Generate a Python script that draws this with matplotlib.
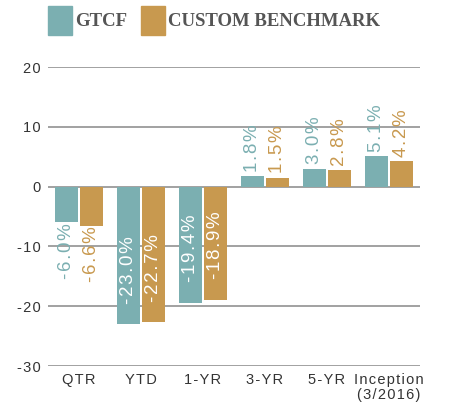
import matplotlib.pyplot as plt
import numpy as np
from matplotlib.patches import Rectangle

# Data
categories = ['QTR', 'YTD', '1-YR', '3-YR', '5-YR', 'Inception\n(3/2016)']
gtcf = [-6.0, -23.0, -19.4, 1.8, 3.0, 5.1]
benchmark = [-6.6, -22.7, -18.9, 1.5, 2.8, 4.2]
series_names = ['GTCF', 'CUSTOM BENCHMARK']
yticks = [20, 10, 0, -10, -20, -30]

teal = '#7bafb1'
gold = '#c8994f'
grid_gray = '#9a9a9a'

plt.rcParams['font.family'] = ['Liberation Sans', 'DejaVu Sans']


def spaced(s):
    # loose letter spacing like the original artwork
    return '\n'.join('\u200a'.join(line) for line in s.split('\n'))


fig = plt.figure(figsize=(4.55, 4.08), dpi=100)
ax = fig.add_axes([48 / 455, 1 - 366 / 408, 372 / 455, 299 / 408])

x = np.arange(len(categories))
width = 0.37
offset = 0.195

for vals, color, dx in [(gtcf, teal, -offset), (benchmark, gold, offset)]:
    ax.bar(x + dx, vals, width=width, color=color, zorder=3)
    for xi, v in zip(x + dx, vals):
        label = spaced(f'{v:.1f}%')
        if v < -10:
            # inside the bar, white text
            ax.text(xi, v + 3.4, label, rotation=90, ha='center', va='bottom',
                    color='white', fontsize=13.5, zorder=4)
        elif v < 0:
            ax.text(xi, v - 0.1, label, rotation=90, ha='center', va='top',
                    color=color, fontsize=13.5, zorder=4)
        else:
            ax.text(xi, v + 0.7, label, rotation=90, ha='center', va='bottom',
                    color=color, fontsize=13.5, zorder=4)

ax.set_xlim(-0.5, len(categories) - 0.5)
ax.set_ylim(-30, 20)
ax.set_yticks(yticks)
ax.set_yticklabels([spaced(str(t)) for t in yticks])
ax.set_xticks(x)
ax.set_xticklabels([spaced(c) for c in categories], fontsize=10.5,
                   color='#333333', linespacing=1.1)
ax.tick_params(axis='y', labelsize=10.5, labelcolor='#333333', length=0, pad=5)
ax.tick_params(axis='x', length=0, pad=5)
ax.yaxis.grid(True, color=grid_gray, linewidth=1.3, zorder=0)
for s in ax.spines.values():
    s.set_visible(False)

# Legend at top
fig.patches.append(Rectangle((48 / 455, 1 - 35 / 408), 24 / 455, 29 / 408,
                             transform=fig.transFigure, color=teal))
fig.text(75 / 455, 1 - 21 / 408, series_names[0], fontsize=13.5, fontweight='bold',
         family='Liberation Serif', color='#555555', va='center')
fig.patches.append(Rectangle((141 / 455, 1 - 35 / 408), 24 / 455, 29 / 408,
                             transform=fig.transFigure, color=gold))
fig.text(168 / 455, 1 - 21 / 408, series_names[1], fontsize=13.5, fontweight='bold',
         family='Liberation Serif', color='#555555', va='center')

plt.savefig('out.png', dpi=100)
